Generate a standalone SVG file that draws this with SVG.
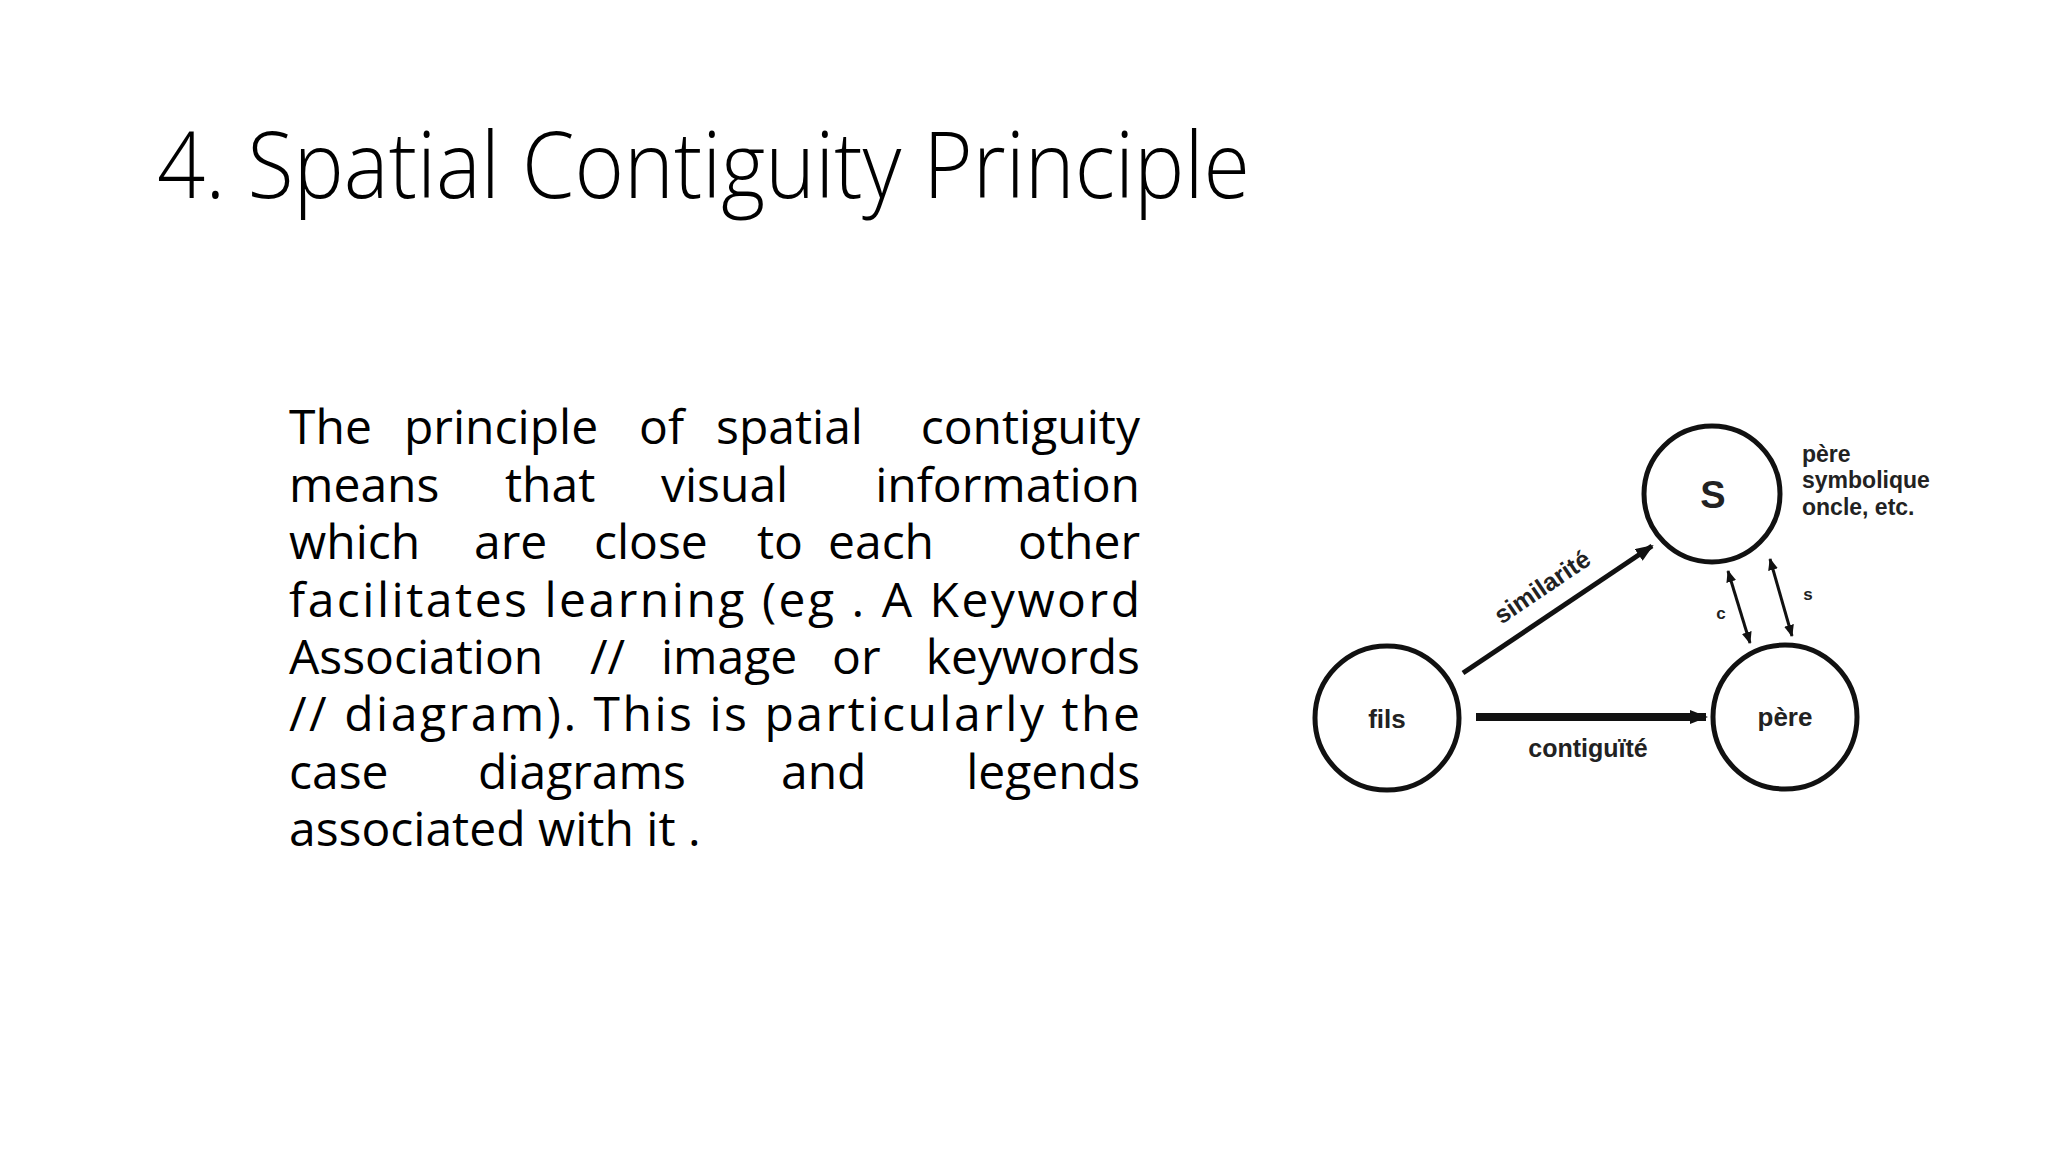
<svg xmlns="http://www.w3.org/2000/svg" width="2048" height="1152" viewBox="0 0 2048 1152">
<style>
.t{font-family:"Open Sans","Liberation Sans",sans-serif;font-weight:300;font-size:92px;fill:#000}
.b{font-family:"Open Sans","Liberation Sans",sans-serif;font-size:48px;fill:#000}
.d{font-family:"Liberation Sans",Arial,sans-serif;font-weight:bold;fill:#222}
.n{fill:#fff;stroke:#111;stroke-width:5}
.e{stroke:#111;fill:none}
</style>
<defs>
<marker id="ah" markerWidth="12" markerHeight="10" refX="11" refY="5" orient="auto-start-reverse" markerUnits="userSpaceOnUse"><path d="M0,0 L12,5 L0,10 Z" fill="#111"/></marker>
<marker id="ah2" markerWidth="18" markerHeight="14" refX="16" refY="7" orient="auto" markerUnits="userSpaceOnUse"><path d="M0,0 L18,7 L0,14 Z" fill="#111"/></marker>
</defs>
<rect width="2048" height="1152" fill="#fff"/>
<text class="t" x="157" y="198" textLength="1093" lengthAdjust="spacingAndGlyphs">4. Spatial Contiguity Principle</text>
<g id="body">
<text class="b" y="444"><tspan x="289">The</tspan><tspan x="404">principle</tspan><tspan x="639">of</tspan><tspan x="716">spatial</tspan></text>
<text class="b" x="1140" y="444" text-anchor="end">contiguity</text>
<text class="b" y="502"><tspan x="289">means</tspan><tspan x="505">that</tspan><tspan x="661">visual</tspan></text>
<text class="b" x="1140" y="502" text-anchor="end">information</text>
<text class="b" y="559"><tspan x="289">which</tspan><tspan x="474">are</tspan><tspan x="594">close</tspan><tspan x="757">to</tspan><tspan x="828">each</tspan></text>
<text class="b" x="1140" y="559" text-anchor="end">other</text>
<text class="b" x="289" y="617" textLength="851" lengthAdjust="spacing">facilitates learning (eg . A Keyword</text>
<text class="b" y="674"><tspan x="289">Association</tspan><tspan x="590">//</tspan><tspan x="661">image</tspan><tspan x="832">or</tspan></text>
<text class="b" x="1140" y="674" text-anchor="end">keywords</text>
<text class="b" x="289" y="731" textLength="851" lengthAdjust="spacing">// diagram). This is particularly the</text>
<text class="b" y="789"><tspan x="289">case</tspan><tspan x="478">diagrams</tspan><tspan x="781">and</tspan></text>
<text class="b" x="1140" y="789" text-anchor="end">legends</text>
<text class="b" x="289" y="846">associated with it .</text>
</g>
<g id="connectors">
<line class="e" x1="1463" y1="673" x2="1652" y2="546" stroke-width="5" marker-end="url(#ah2)"/>
<line class="e" x1="1476" y1="717" x2="1706" y2="717" stroke-width="8" marker-end="url(#ah2)"/>
<line class="e" x1="1728" y1="571" x2="1750" y2="643" stroke-width="3" marker-start="url(#ah)" marker-end="url(#ah)"/>
<line class="e" x1="1770" y1="559" x2="1792" y2="636" stroke-width="3" marker-start="url(#ah)" marker-end="url(#ah)"/>
<text class="d" font-size="25" transform="translate(1547,594) rotate(-34)" text-anchor="middle">similarité</text>
<text class="d" font-size="25" x="1588" y="757" text-anchor="middle">contiguïté</text>
<text class="d" font-size="17" x="1721" y="619" text-anchor="middle">c</text>
<text class="d" font-size="17" x="1808" y="600" text-anchor="middle">s</text>
</g>
<g id="S"><circle class="n" cx="1712" cy="494" r="68"/><text class="d" font-size="38" x="1713" y="508" text-anchor="middle" font-weight="normal">S</text></g>
<g id="fils"><circle class="n" cx="1387" cy="718" r="72"/><text class="d" font-size="26" x="1387" y="728" text-anchor="middle">fils</text></g>
<g id="pere"><circle class="n" cx="1785" cy="717" r="72"/><text class="d" font-size="26" x="1785" y="726" text-anchor="middle">père</text></g>
<g id="legend">
<text class="d" font-size="23" x="1802" y="462">père</text>
<text class="d" font-size="23" x="1802" y="488">symbolique</text>
<text class="d" font-size="23" x="1802" y="515">oncle, etc.</text>
</g>
</svg>
